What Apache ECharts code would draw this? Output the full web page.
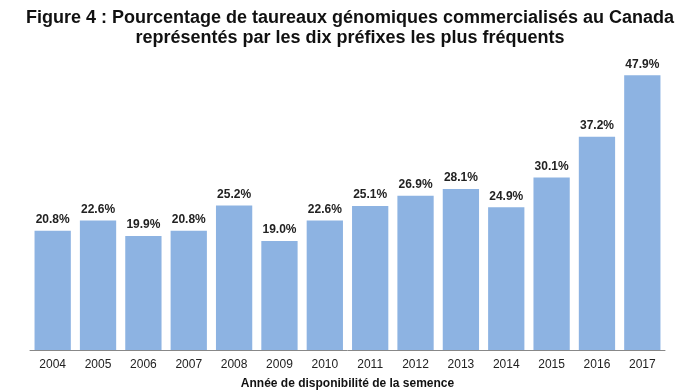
<!DOCTYPE html>
<html><head><meta charset="utf-8">
<script src="https://cdn.jsdelivr.net/npm/echarts@6/dist/echarts.min.js"></script>
<style>html,body{margin:0;padding:0;background:#fff}#c{width:682px;height:391px}</style>
</head><body><div id="c"></div>
<script>
const years = ['2004','2005','2006','2007','2008','2009','2010','2011','2012','2013','2014','2015','2016','2017'];
const values = [20.8,22.6,19.9,20.8,25.2,19.0,22.6,25.1,26.9,28.1,24.9,30.1,37.2,47.9];
const titleText = 'Figure 4 : Pourcentage de taureaux génomiques commercialisés au Canada\nreprésentés par les dix préfixes les plus fréquents';
const xName = 'Année de disponibilité de la semence';
const chart = echarts.init(document.getElementById('c'));
chart.setOption({
  animation:false,
  title:{text:titleText,left:345,textAlign:'center',top:3,textStyle:{fontFamily:'Liberation Sans',fontSize:18,fontWeight:'bold',color:'#111',lineHeight:20}},
  grid:{left:30,right:17,top:6,bottom:41,outerBoundsMode:'none',containLabel:false},
  xAxis:{type:'category',data:years,name:xName,nameLocation:'middle',nameGap:28,
    nameTextStyle:{fontFamily:'Liberation Sans',fontSize:12,fontWeight:'bold',color:'#111'},
    axisLine:{lineStyle:{color:'#888'}},axisTick:{length:4,lineStyle:{color:'#888'}},
    axisLabel:{fontFamily:'Liberation Sans',fontSize:12,color:'#222',margin:9}},
  yAxis:{type:'value',min:0,max:60,show:false},
  series:[{type:'bar',data:values,barCategoryGap:'20%',itemStyle:{color:'#8DB3E2'},
    label:{show:true,position:'top',distance:5,formatter:p=>p.value.toFixed(1)+'%',fontFamily:'Liberation Sans',fontSize:12,fontWeight:'bold',color:'#222'}}]
});
</script></body></html>
